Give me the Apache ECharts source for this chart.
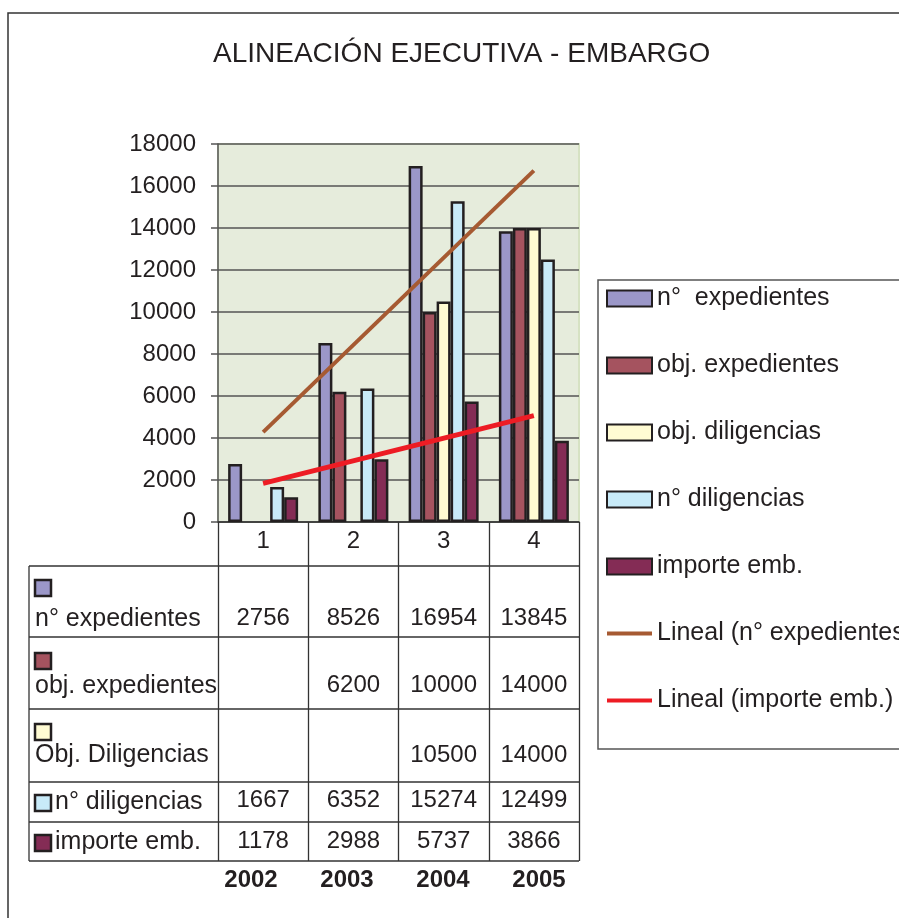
<!DOCTYPE html>
<html lang="es">
<head>
<meta charset="UTF-8">
<title>Alineación ejecutiva - embargo</title>
<script src="https://cdn.jsdelivr.net/npm/echarts@6/dist/echarts.min.js"></script>
<style>html,body{margin:0;padding:0;background:#fff;}</style>
</head>
<body>
<div id="main" style="width:899px;height:918px;"></div>
<script type="text/javascript">
// datos
var categories = ['1', '2', '3', '4'];
var years = ['2002', '2003', '2004', '2005'];
var seriesNames = ['n°  expedientes', 'obj. expedientes', 'obj. diligencias', 'n° diligencias', 'importe emb.'];
var rowNames = ['n° expedientes', 'obj. expedientes', 'Obj. Diligencias', 'n° diligencias', 'importe emb.'];
var nExpedientes = [2756, 8526, 16954, 13845];
var objExpedientes = [null, 6200, 10000, 14000];
var objDiligencias = [null, null, 10500, 14000];
var nDiligencias = [1667, 6352, 15274, 12499];
var importeEmb = [1178, 2988, 5737, 3866];
var trendNames = ['Lineal (n° expedientes)', 'Lineal (importe emb.)'];
var trendExpedientes = [4280, null, null, 16730];
var trendImporte = [1840, null, null, 5065];
var yMin = 0, yMax = 18000, yStep = 2000;

// estilo
var FONT = "'Liberation Sans', Arial, Helvetica, sans-serif";
var INK = '#231f20';
var barColors = ['#9b97c8', '#a5535f', '#fffbd3', '#c8eaf8', '#842c55'];
var trendColors = ['#a65a32', '#ed1c24'];
var rowValues = [nExpedientes, objExpedientes, objDiligencias, nDiligencias, importeEmb];

var chart = echarts.init(document.getElementById('main'));

// tabla de datos: lineas y claves de la izquierda
var tableLeft = 29, tableRight = 579;
var rowLines = [566, 637, 709, 782, 822, 861];
var rowOffsets = [84, 151, 221, 266, 307];
var rowKeys = [
    {sx: 35, sy: 580, tx: 35, ty: 619},
    {sx: 35, sy: 653, tx: 35, ty: 686},
    {sx: 35, sy: 724, tx: 35, ty: 755},
    {sx: 35, sy: 795, tx: 55, ty: 802},
    {sx: 35, sy: 835, tx: 55, ty: 842}
];

var graphic = [];
graphic.push({
    type: 'rect', silent: true,
    shape: {x: 8, y: 13, width: 1000, height: 1000},
    style: {fill: null, stroke: '#333', lineWidth: 1.5}
});
rowLines.forEach(function (y) {
    graphic.push({
        type: 'line', silent: true,
        shape: {x1: tableLeft, y1: y, x2: tableRight, y2: y},
        style: {stroke: '#333', lineWidth: 1.3}
    });
});
graphic.push({
    type: 'line', silent: true,
    shape: {x1: tableLeft, y1: rowLines[0], x2: tableLeft, y2: rowLines[rowLines.length - 1]},
    style: {stroke: '#333', lineWidth: 1.3}
});
rowKeys.forEach(function (k, i) {
    graphic.push({
        type: 'rect', silent: true,
        shape: {x: k.sx, y: k.sy, width: 16, height: 16},
        style: {fill: barColors[i], stroke: INK, lineWidth: 2.5}
    });
    graphic.push({
        type: 'text', silent: true,
        style: {
            text: rowNames[i], x: k.tx, y: k.ty,
            fill: INK, fontSize: 25, fontFamily: FONT,
            verticalAlign: 'middle', align: 'left'
        }
    });
});

var xAxes = [{
    type: 'category',
    data: categories,
    gridIndex: 0,
    axisLine: {show: true, lineStyle: {color: '#333', width: 1.5}},
    axisTick: {show: true, interval: 0, alignWithLabel: false, length: 339, lineStyle: {color: '#333', width: 1.3}},
    axisLabel: {margin: 7, fontSize: 24, lineHeight: 24, color: INK, fontFamily: FONT}
}];
rowValues.forEach(function (vals, k) {
    xAxes.push({
        type: 'category',
        data: categories,
        gridIndex: 0,
        position: 'bottom',
        offset: rowOffsets[k],
        axisLine: {show: false},
        axisTick: {show: false},
        splitLine: {show: false},
        axisLabel: {
            interval: 0, margin: 0, fontSize: 24, lineHeight: 24, color: INK, fontFamily: FONT,
            formatter: function (v, i) { return vals[i] == null ? '' : String(vals[i]); }
        }
    });
});
// fila de años
xAxes.push({
    type: 'category',
    data: years,
    gridIndex: 1,
    axisLine: {show: false},
    axisTick: {show: false},
    axisLabel: {interval: 0, margin: 18, fontSize: 24, lineHeight: 24, fontWeight: 'bold', color: INK, fontFamily: FONT}
});

var series = [];
[nExpedientes, objExpedientes, objDiligencias, nDiligencias, importeEmb].forEach(function (d, i) {
    series.push({
        name: seriesNames[i],
        type: 'bar',
        xAxisIndex: 0,
        yAxisIndex: 0,
        data: d,
        barWidth: 14,
        barGap: '0%',
        itemStyle: {color: barColors[i], borderColor: INK, borderWidth: 2.5},
        silent: true
    });
});
[trendExpedientes, trendImporte].forEach(function (d, i) {
    series.push({
        name: trendNames[i],
        type: 'line',
        xAxisIndex: 0,
        yAxisIndex: 0,
        data: d,
        connectNulls: true,
        symbol: 'none',
        lineStyle: {color: trendColors[i], width: i === 0 ? 4 : 5},
        itemStyle: {color: trendColors[i]},
        z: 5,
        silent: true
    });
});

var option = {
    animation: false,
    title: {
        text: 'ALINEACIÓN EJECUTIVA - EMBARGO',
        left: 213,
        top: 40,
        padding: 0,
        textStyle: {fontSize: 28, fontWeight: 'normal', color: INK, fontFamily: FONT}
    },
    legend: {
        orient: 'vertical',
        left: 598,
        top: 280,
        padding: [6, 200, 36, 8],
        borderColor: '#555',
        borderWidth: 1.5,
        itemWidth: 45,
        itemHeight: 16,
        itemGap: 42,
        symbolKeepAspect: true,
        textStyle: {fontSize: 25, lineHeight: 24, color: INK, fontFamily: FONT},
        data: seriesNames.map(function (n) { return {name: n, icon: 'rect'}; })
            .concat(trendNames.map(function (n) {
                return {name: n, icon: 'path://M0,0H45V4H0Z', itemStyle: {borderWidth: 0}};
            }))
    },
    grid: [{
        left: 218, right: 320, top: 144, bottom: 396,
        show: true,
        backgroundColor: '#e6ecdc',
        borderColor: '#d6e2c3',
        borderWidth: 2
    }, {
        left: 203, width: 384, top: 144, bottom: 68, show: false
    }],
    xAxis: xAxes,
    yAxis: [{
        type: 'value',
        gridIndex: 0,
        min: yMin, max: yMax, interval: yStep,
        axisLine: {show: true, lineStyle: {color: '#555', width: 1.5}},
        axisTick: {show: true, length: 7, lineStyle: {color: '#555', width: 1.5}},
        splitLine: {lineStyle: {color: '#555', width: 1.5}},
        axisLabel: {
            margin: 22, fontSize: 24, color: INK, fontFamily: FONT,
            formatter: function (v) { return String(v); }
        }
    }, {
        type: 'value', gridIndex: 1, min: 0, max: 1, show: false
    }],
    graphic: graphic,
    series: series
};

chart.setOption(option);
</script>
</body>
</html>
